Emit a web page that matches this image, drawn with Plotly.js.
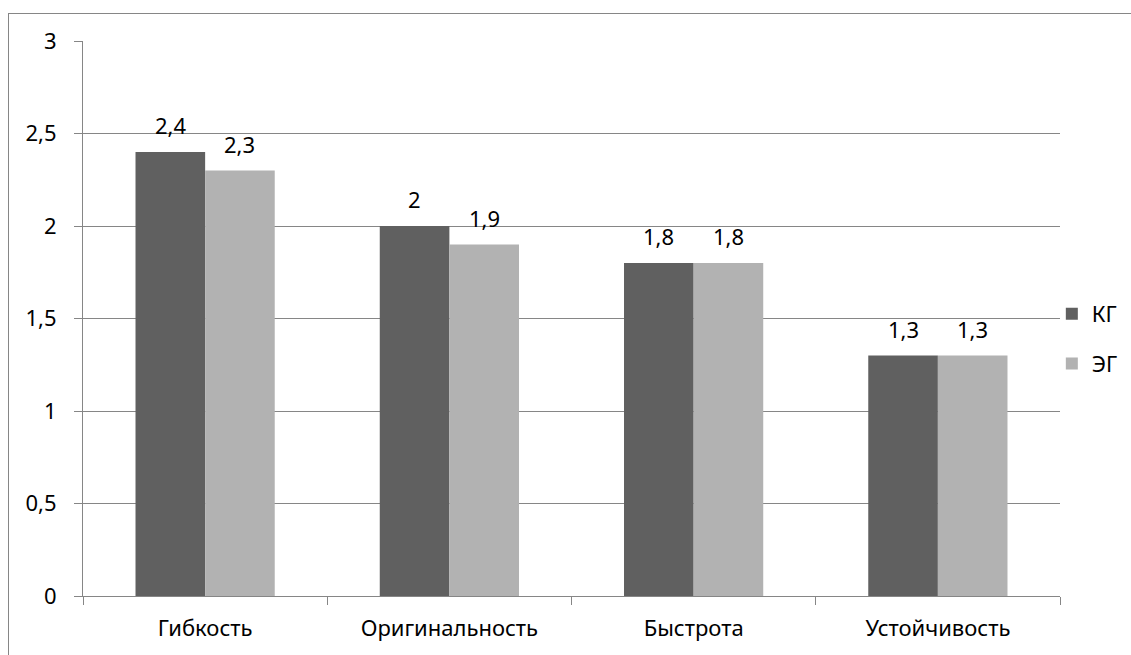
<!DOCTYPE html>
<html><head><meta charset="utf-8">
<script src="https://cdn.plot.ly/plotly-3.0.1.min.js"></script>
<style>
html,body{margin:0;padding:0;background:#fff;overflow:hidden;}
#frame{position:absolute;left:8px;top:13px;width:1200px;height:700px;border-left:1px solid #868686;border-top:1px solid #868686;}
#chart{position:absolute;left:0;top:0;width:1131px;height:655px;}
</style></head>
<body>
<div id="frame"></div>
<div id="chart"></div>
<script>
var categories = ["Гибкость", "Оригинальность", "Быстрота", "Устойчивость"];
var kgValues = [2.4, 2.0, 1.8, 1.3];
var egValues = [2.3, 1.9, 1.8, 1.3];
var seriesNames = ["КГ", "ЭГ"];
var yTickVals = [0, 0.5, 1, 1.5, 2, 2.5, 3];
var yTickText = ["0", "0,5", "1", "1,5", "2", "2,5", "3"];

var fontFam = "'Noto Sans', 'Open Sans', sans-serif";
var fs = 22;
function fmt(v){ return String(v).replace('.', ','); }

var traces = [
  {type:'bar', name:seriesNames[0], x:categories, y:kgValues,
   marker:{color:'#606060'}, legendgroup:'a'},
  {type:'bar', name:seriesNames[1], x:categories, y:egValues,
   marker:{color:'#b2b2b2'}, legendgroup:'b'}
];

var plotW = 1131 - 83 - 71;
var bargap = 0.43;
var barW = plotW / categories.length * (1 - bargap) / 2;
var annotations = [];
categories.forEach(function(c, i){
  annotations.push({x:c, y:kgValues[i], xref:'x', yref:'y', text:fmt(kgValues[i]), showarrow:false,
    xshift:-barW/2, yshift:27, yanchor:'middle', font:{size:fs, color:'#000', family:fontFam}});
  annotations.push({x:c, y:egValues[i], xref:'x', yref:'y', text:fmt(egValues[i]), showarrow:false,
    xshift:barW/2, yshift:27, yanchor:'middle', font:{size:fs, color:'#000', family:fontFam}});
});

var layout = {
  width:1131, height:655,
  margin:{l:83, r:71, t:41, b:59, autoexpand:false},
  paper_bgcolor:'rgba(0,0,0,0)', plot_bgcolor:'rgba(0,0,0,0)',
  font:{family:fontFam, size:fs, color:'#000'},
  barmode:'group', bargap:bargap, bargroupgap:0,
  showlegend:true,
  annotations:annotations,
  legend:{xref:'container', x:0.930, y:0.463, xanchor:'left', yanchor:'middle', traceorder:'grouped', tracegroupgap:18,
          font:{size:fs, family:fontFam}, itemwidth:30, bgcolor:'rgba(0,0,0,0)'},
  xaxis:{type:'category', showline:true, linecolor:'#868686', linewidth:1,
         ticks:'outside', tickson:'boundaries', ticklen:8, tickcolor:'#868686',
         showgrid:false, tickfont:{size:fs}, ticklabelstandoff:13, fixedrange:true},
  yaxis:{range:[0,3], tickvals:yTickVals, ticktext:yTickText, showline:true, linecolor:'#868686',
         ticks:'outside', ticklen:8, tickcolor:'#868686', showgrid:true, gridcolor:'#868686',
         gridwidth:1, zeroline:false, tickfont:{size:fs}, ticklabelstandoff:13}
};

Plotly.newPlot('chart', traces, layout, {staticPlot:true});
</script>
</body></html>
